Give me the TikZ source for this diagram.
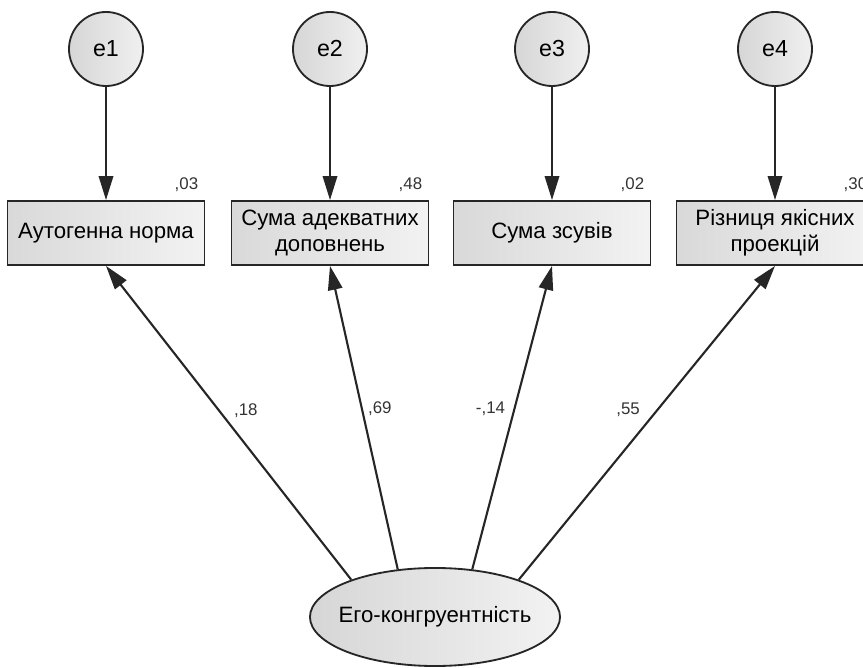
\documentclass[tikz,border=0pt]{standalone}
\usepackage{fontspec}
\setmainfont{Liberation Sans}
\usetikzlibrary{arrows.meta,shapes.geometric}
\tikzset{
errv/.style={circle,draw=black!85,line width=1.3pt,minimum size=1.85cm,inner sep=0,left color=gray!32,right color=gray!12,font=\fontsize{16.5}{19}\selectfont},
obsv/.style={rectangle,draw=black!85,line width=1.3pt,minimum width=4.925cm,minimum height=1.6cm,inner sep=0,align=center,left color=gray!30,right color=gray!10,font=\fontsize{15.8}{18.5}\selectfont},
latv/.style={ellipse,draw=black!85,line width=1.3pt,minimum width=6.25cm,minimum height=2.45cm,inner sep=0,left color=gray!32,right color=gray!10,label={[font=\fontsize{15.8}{18}\selectfont]center:#1}},
load/.style={draw=black!85,line width=1.5pt,-{Triangle[length=6mm,width=3.6mm]}},
coef/.style={font=\fontsize{12}{14}\selectfont,text=black!80,inner sep=0}
}
\begin{document}
\begin{tikzpicture}[x=.025cm,y=-.025cm]
\newcommand{\Item}[4]{\node[errv](e#1)at(#2,49){e#1};
\node[obsv](v#1)at(#2,233){#3};
\node[coef,anchor=base east]at([shift={(-7,-11)}]v#1.north east){#4};
\draw[load](e#1)--(v#1);}
\clip(0,0)rectangle(863,668);
\Item{1}{106}{Аутогенна норма}{,03}
\Item{2}{330}{Сума адекватних\\доповнень}{,48}
\Item{3}{552}{Сума зсувів}{,02}
\Item{4}{775}{Різниця якісних\\проекцій}{,30}
\node[latv=Его-конгруентність](ego)at(435,617){};
\draw[load](ego.156)--node[coef,pos=.54,xshift=.675cm]{,18}(v1.south);
\draw[load](ego.128)--node[coef,pos=.53,xshift=.45cm]{,69}(v2.south);
\draw[load](ego.52)--node[coef,pos=.53,xshift=-.6cm]{-,14}(v3.south);
\draw[load](ego.24)--node[coef,pos=.54,xshift=-.725cm]{,55}(v4.south);
\end{tikzpicture}
\end{document}
